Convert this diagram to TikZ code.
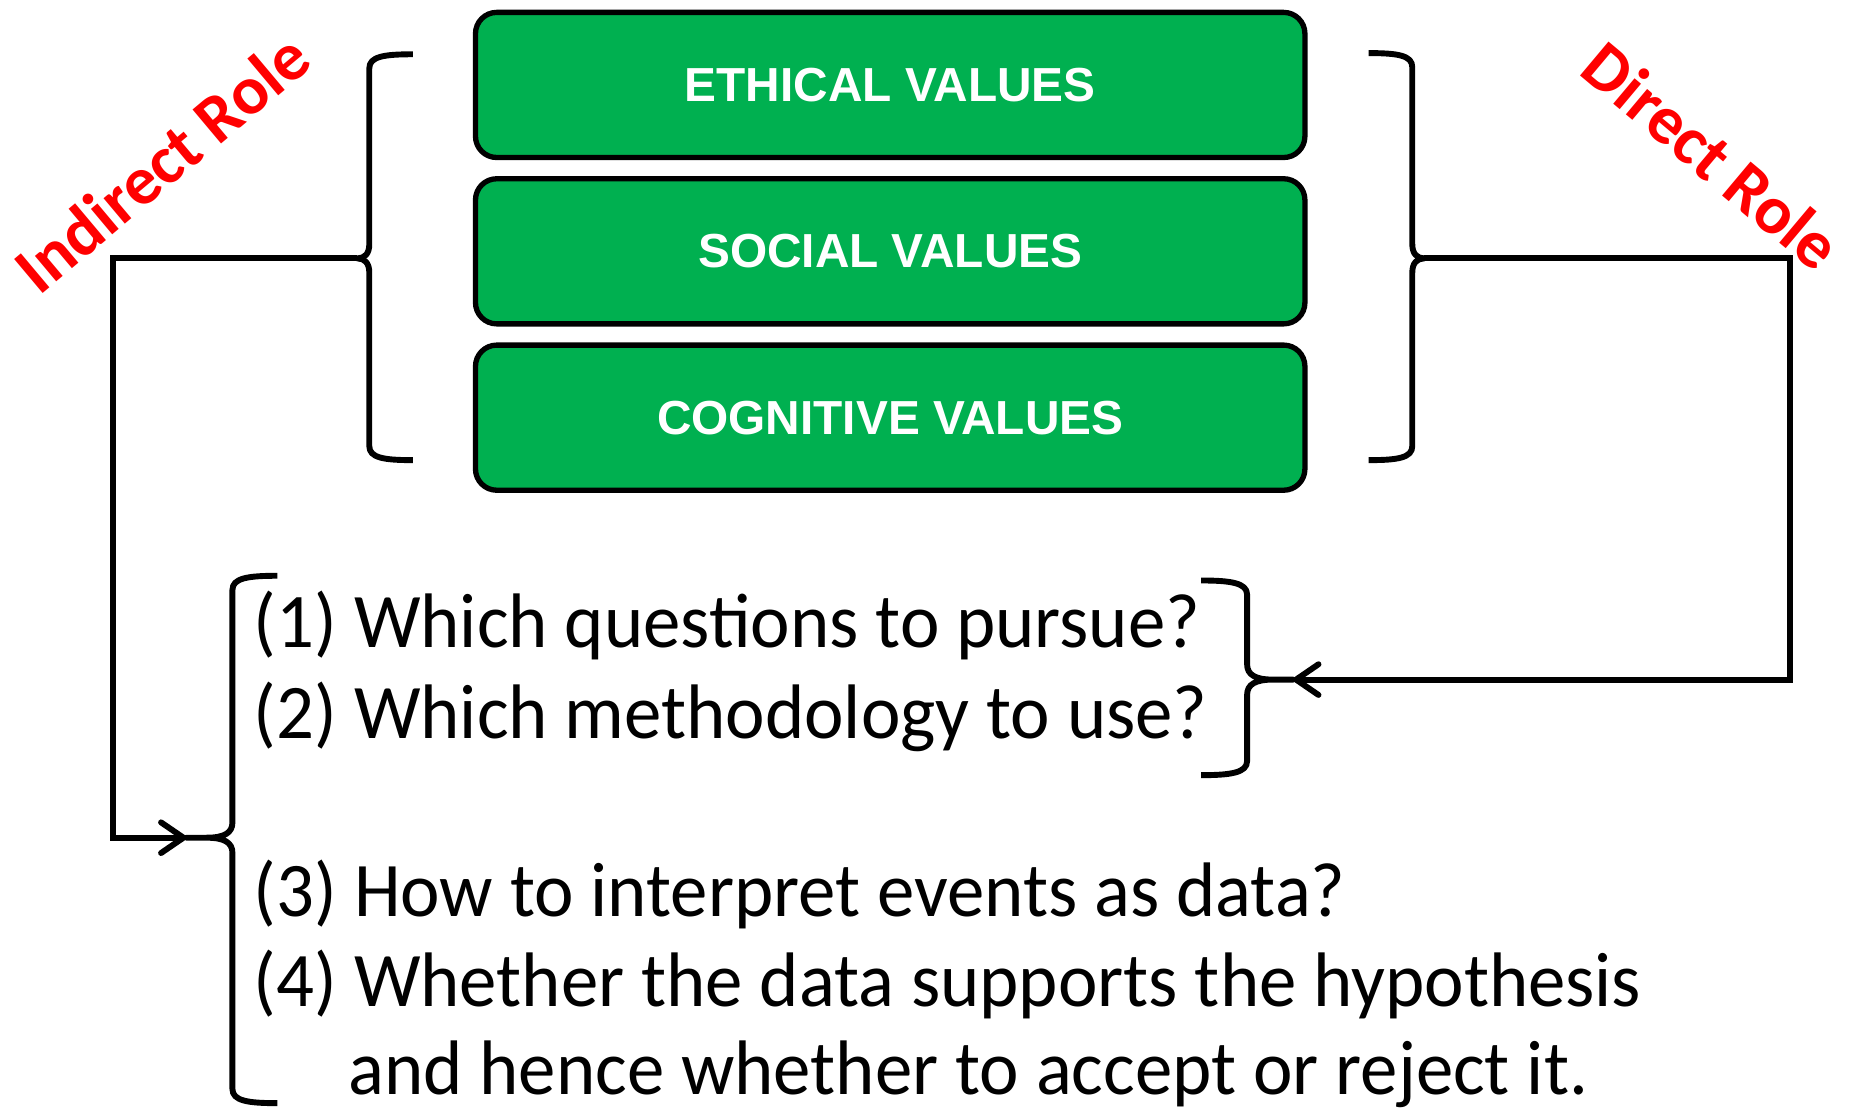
\documentclass[tikz,border=0pt]{standalone}
\usepackage{fontspec}
\setmainfont{Carlito}
\newfontfamily\itemfont[FakeStretch=0.968]{Carlito}
\newfontfamily\boxfont{Liberation Sans}
\usetikzlibrary{arrows.meta}
\definecolor{valgreen}{RGB}{0,176,80}
\definecolor{rolered}{RGB}{255,0,0}

\begin{document}
\begin{tikzpicture}[x=1pt, y=-1pt,
  valuebox/.style={draw=black, line width=4.5pt, fill=valgreen,
    rounded corners=18pt, minimum width=703pt, minimum height=123pt,
    inner sep=0pt, text=white,
    font=\boxfont\bfseries\fontsize{40.5}{48}\selectfont},
  rolelabel/.style={text=rolered, inner sep=0pt,
    font=\bfseries\fontsize{58}{64}\selectfont},
  item/.style={anchor=base west, inner sep=0pt,
    font=\itemfont\fontsize{65.5}{76}\selectfont},
  brace/.style={draw=black, line width=5pt, line join=round},
  link/.style={draw=black, line width=5pt, line join=miter},
  tip/.style={-{Straight Barb[length=19pt, width=26pt, round]}},
]
\useasboundingbox (0,0) rectangle (1568,942);

% the three value boxes
\node[valuebox] (eth) at (754.5,72)  {ETHICAL VALUES};
\node[valuebox] (soc) at (754.5,213) {SOCIAL VALUES};
\node[valuebox] (cog) at (754.5,354) {COGNITIVE VALUES};

% brace tips
\coordinate (ltip)  at (303,219);
\coordinate (rtip)  at (1207,219);
\coordinate (lltip) at (158,710);
\coordinate (lrtip) at (1096,576);

% brace to the left of the boxes
\draw[brace] (350,46) .. controls (325,46) and (313,48) .. (313,58)
  -- (313,207) .. controls (313,215) and (309,219) .. (ltip)
  .. controls (309,219) and (313,223) .. (313,231)
  -- (313,378) .. controls (313,388) and (325,390) .. (350,390);

% brace to the right of the boxes
\draw[brace] (1160,45) .. controls (1185,45) and (1197,47) .. (1197,57)
  -- (1197,207) .. controls (1197,215) and (1201,219) .. (rtip)
  .. controls (1201,219) and (1197,223) .. (1197,231)
  -- (1197,378) .. controls (1197,388) and (1185,390) .. (1160,390);

% brace around all four questions
\draw[brace] (235,488) .. controls (210,488) and (197,490) .. (197,500)
  -- (197,697) .. controls (197,706) and (190,710) .. (175,710) -- (lltip)
  -- (175,710) .. controls (190,710) and (197,714) .. (197,723)
  -- (197,923) .. controls (197,933) and (210,935) .. (235,935);

% brace around the first two questions
\draw[brace] (1018,492) .. controls (1043,492) and (1057,494) .. (1057,504)
  -- (1057,563) .. controls (1057,572) and (1064,576) .. (1079,576) -- (lrtip)
  -- (1079,576) .. controls (1064,576) and (1057,580) .. (1057,589)
  -- (1057,645) .. controls (1057,655) and (1043,657) .. (1018,657);

% connectors
\draw[link, tip] (ltip) -- ++(-207,0) |- (lltip);
\draw[link, tip] (rtip) -- ++(310,0) |- (lrtip);

% role labels
\node[rolelabel, rotate=40]  (indirect) at (137,138)  {Indirect Role};
\node[rolelabel, rotate=-40] (direct)   at (1451,132) {Direct Role};

% questions
\node[item] (q1) at (215,549) {(1) Which questions to pursue?};
\node[item] (q2) at (215,626) {(2) Which methodology to use?};
\node[item] (q3) at (215,777) {(3) How to interpret events as data?};
\node[item] (q4) at (215,853) {(4) Whether the data supports the hypothesis};
\node[item] (q5) at (295,928) {and hence whether to accept or reject it.};
\end{tikzpicture}
\end{document}
